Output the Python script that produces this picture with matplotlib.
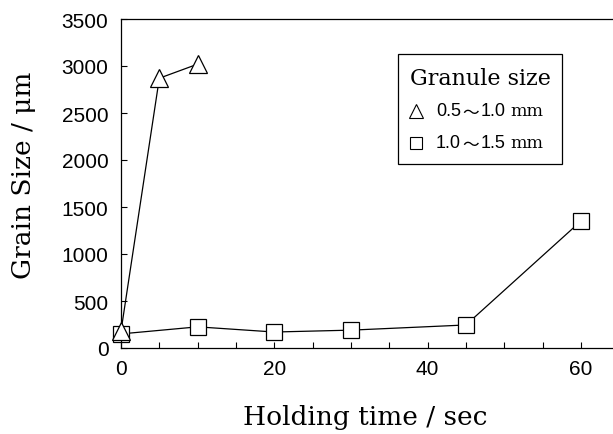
import matplotlib
matplotlib.use("Agg")
import matplotlib.pyplot as plt
from matplotlib.ticker import MultipleLocator, FixedLocator
from matplotlib.patches import Rectangle

# Data
t_small = [0, 5, 10]
g_small = [180, 2870, 3020]
t_large = [0, 10, 20, 30, 45, 60]
g_large = [150, 225, 170, 190, 245, 1350]
legend_title = "Granule size"
legend_ranges = [("0.5", "1.0"), ("1.0", "1.5")]
xlabel = "Holding time / sec"
ylabel = "Grain Size / μm"

W, H = 613, 435
fig = plt.figure(figsize=(W / 100, H / 100), dpi=100)
x0, y0 = 121, 349
xmax = 65
px_per_x = 153.3 / 20
ax = fig.add_axes([x0 / W, (H - y0) / H, xmax * px_per_x / W, (y0 - 20) / H])

SANS = "Liberation Sans"
CJK = "Noto Sans CJK JP"
SERIF = "DejaVu Serif"

ax.plot(t_small, g_small, color="black", lw=0.9, marker="^", ms=12.5,
        mfc="white", mec="black", mew=0.9, zorder=3, clip_on=False)
ax.plot(t_large, g_large, color="black", lw=0.9, marker="s", ms=11,
        mfc="white", mec="black", mew=0.9, zorder=2, clip_on=False)

ax.set_xlim(0, xmax)
ax.set_ylim(0, 3500)
ax.xaxis.set_major_locator(FixedLocator([0, 20, 40, 60]))
ax.xaxis.set_minor_locator(MultipleLocator(5))
ax.yaxis.set_major_locator(MultipleLocator(500))
ax.tick_params(axis="both", which="both", direction="in", length=4.5, width=0.8,
               top=False, right=False)
ax.tick_params(axis="x", which="major", pad=8, labelsize=15)
ax.tick_params(axis="y", which="major", pad=9, labelsize=15)
for lab in ax.get_xticklabels() + ax.get_yticklabels():
    lab.set_fontfamily(SANS)
ax.spines["right"].set_visible(False)
for s in ["left", "bottom", "top"]:
    ax.spines[s].set_linewidth(0.9)

fig.text(365 / W, 1 - 418 / H, xlabel, family=SERIF, fontsize=19,
         ha="center", va="center")
fig.text(24 / W, 1 - 175 / H, ylabel, family=SERIF, fontsize=19,
         ha="center", va="center", rotation=90)

# Legend box drawn manually
bx0, by0, bx1, by1 = 398, 55, 562, 165
fig.add_artist(Rectangle((bx0 / W, 1 - by1 / H), (bx1 - bx0) / W, (by1 - by0) / H,
                         transform=fig.transFigure, fill=True, fc="white",
                         ec="black", lw=0.9, zorder=5))
fig.text(410 / W, 1 - 79 / H, legend_title, family=SERIF, fontsize=16,
         ha="left", va="center", zorder=6)
markers = ["^", "s"]
ys = [112, 144]
msz = [9.5, 8]
fig.canvas.draw()
for m, y, (lo, hi), s in zip(markers, ys, legend_ranges, msz):
    fig.add_artist(plt.Line2D([416 / W], [1 - y / H], marker=m, ms=s, mfc="white",
                              mec="black", mew=0.8, ls="none",
                              transform=fig.transFigure, zorder=6))
    xpos = 436
    pieces = [(lo, SANS, 13, 0), ("〜", CJK, 12, 1.5), (hi, SANS, 13, 1.5),
              ("mm", SERIF, 12.5, 5)]
    for txt, fam, fs, gap in pieces:
        xpos += gap
        t = fig.text(xpos / W, 1 - y / H, txt, family=fam, fontsize=fs,
                     ha="left", va="center_baseline" if fam == CJK else "center",
                     zorder=6)
        fig.canvas.draw()
        bb = t.get_window_extent()
        xpos = bb.x1

fig.savefig("out.png", dpi=100)
